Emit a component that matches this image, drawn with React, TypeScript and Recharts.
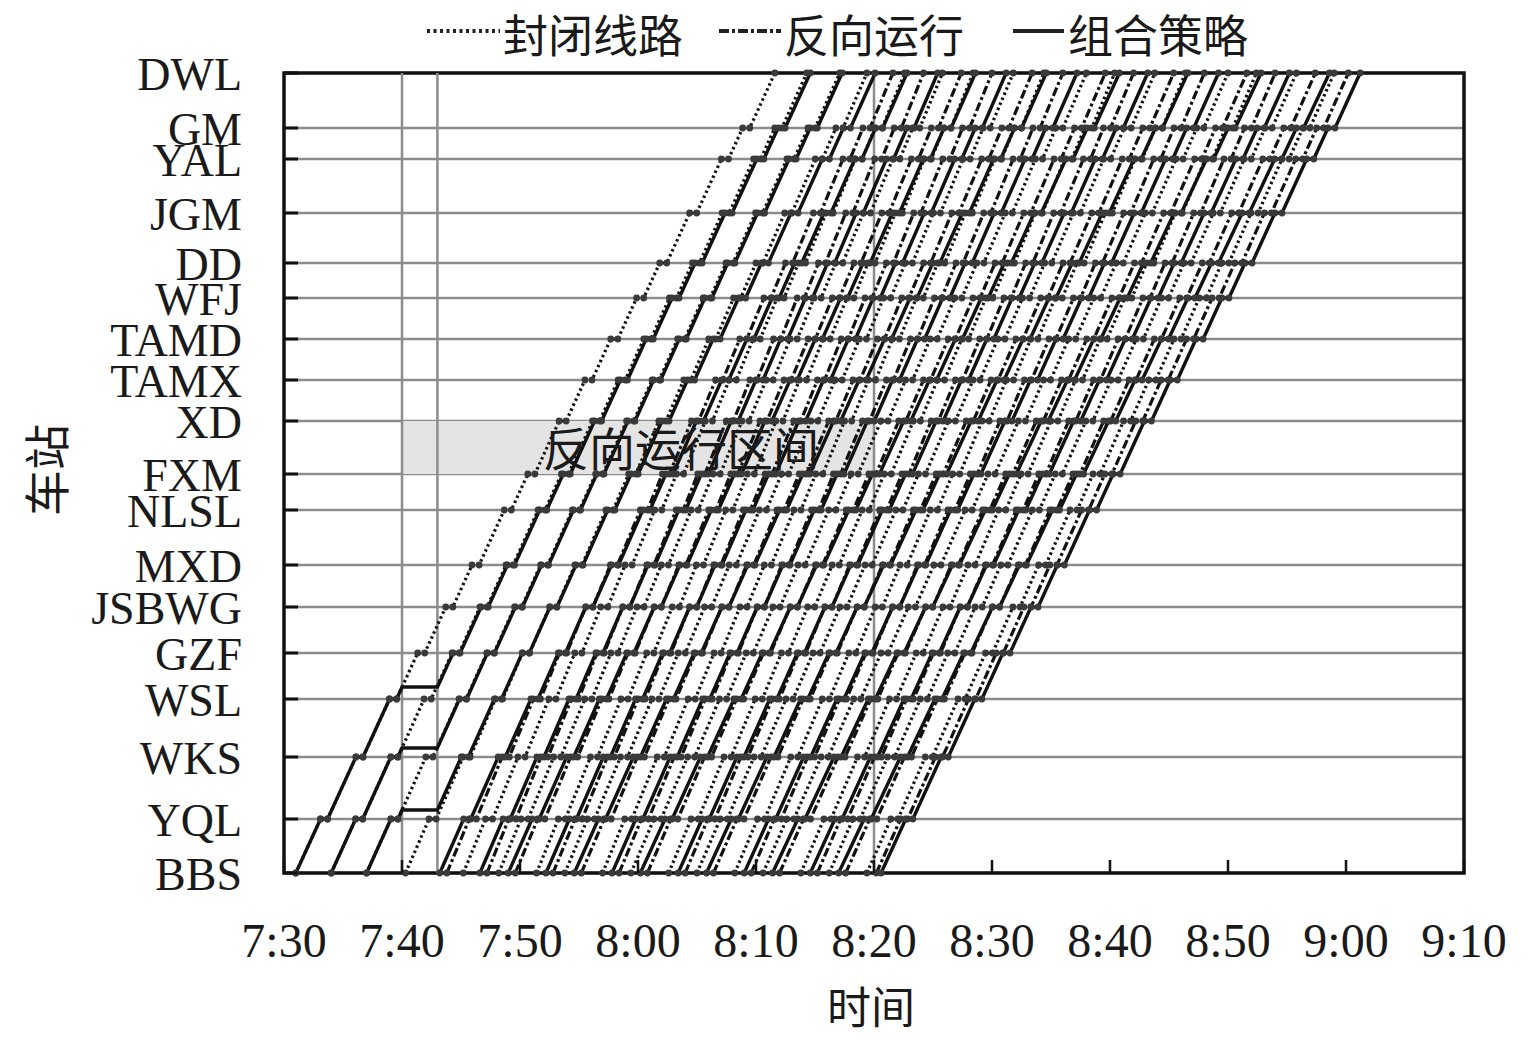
import React from "react";
import { LineChart, Line, XAxis, YAxis, CartesianGrid, ReferenceArea, ReferenceLine } from "recharts";

// stations from bottom (BBS) to top (DWL), position along the line
const stations = ["BBS", "YQL", "WKS", "WSL", "GZF", "JSBWG", "MXD", "NLSL", "FXM", "XD", "TAMX", "TAMD", "WFJ", "DD", "JGM", "YAL", "GM", "DWL"];
const stationPos = [0, 54, 116, 174, 220, 266, 308, 363, 399, 452, 493, 534, 575, 610, 660, 714, 745, 800];

// minutes after 7:30
const timeTicks = [0, 10, 20, 30, 40, 50, 60, 70, 80, 90, 100];
const timeLabels = ["7:30", "7:40", "7:50", "8:00", "8:10", "8:20", "8:30", "8:40", "8:50", "9:00", "9:10"];

// departure from BBS / arrival at DWL, per plan
const closedDep = [10.3, 15.2, 18.2, 21.4, 23.8, 27.0, 29.4, 32.6, 35.0, 38.2, 40.6, 43.8, 46.2, 49.4];
const closedArr = [49.4, 52.6, 55.8, 58.4, 61.8, 64.4, 68.0, 70.4, 73.8, 76.4, 80.0, 82.4, 85.8, 89.0];
const reverseDep = [13.8, 17.2, 19.6, 22.8, 25.2, 28.4, 30.8, 34.0, 36.4, 39.6, 42.0, 45.2, 47.6, 50.2];
const reverseArr = [51.6, 54.2, 57.4, 60.0, 63.4, 66.0, 69.6, 72.0, 75.4, 78.0, 81.6, 84.0, 87.4, 90.2];
const comboDep = [13.2, 16.6, 19.0, 22.2, 24.6, 27.8, 30.2, 33.4, 35.8, 39.0, 41.4, 44.6, 47.0, 50.6];
const comboArr = [52.8, 55.4, 58.6, 61.2, 64.6, 67.2, 70.8, 73.2, 76.6, 79.2, 82.8, 85.2, 88.6, 91.2];

// trains already on the line at the incident
const earlyDep = [1, 4, 7];
const earlyHoldPos = [186, 125, 63];
const earlyHeldArr = [44.6, 47.3, 50.1];
const earlyFreeArr = [41.6, 44.3, 47.1];
const holdStart = 10;
const holdEnd = 13;
const dwell = 0.6;

type Pt = { t: number; s: number; stop?: boolean };

function buildRun(dep: number, arr: number, holdAt?: number): Pt[] {
  const hold = holdAt === undefined ? 0 : holdEnd - holdStart;
  const stops = stationPos.length - 2;
  const speed = 800 / (arr - dep - stops * dwell - hold);
  let t = dep;
  const pts: Pt[] = [{ t, s: 0, stop: true }];
  for (let i = 1; i < stationPos.length; i++) {
    const a = stationPos[i - 1];
    const b = stationPos[i];
    if (holdAt !== undefined && holdAt > a && holdAt < b) {
      t += (holdAt - a) / speed;
      pts.push({ t, s: holdAt });
      t += hold;
      pts.push({ t, s: holdAt });
      t += (b - holdAt) / speed;
    } else {
      t += (b - a) / speed;
    }
    pts.push({ t, s: b, stop: true });
    if (i < stationPos.length - 1) {
      t += dwell;
      pts.push({ t, s: b, stop: true });
    }
  }
  return pts;
}

const closedRuns = [
  ...earlyDep.map((d, i) => buildRun(d, earlyFreeArr[i])),
  ...closedDep.map((d, i) => buildRun(d, closedArr[i])),
];
const reverseRuns = reverseDep.map((d, i) => buildRun(d, reverseArr[i]));
const comboRuns = [
  ...earlyDep.map((d, i) => buildRun(d, earlyHeldArr[i], earlyHoldPos[i])),
  ...comboDep.map((d, i) => buildRun(d, comboArr[i])),
];

const serif = "'Liberation Serif', 'DejaVu Serif', serif";
const cjk = "'Noto Sans CJK SC', sans-serif";

const renderDot = (p: any) =>
  p.payload && p.payload.stop ? (
    <circle key={`d${p.index}`} cx={p.cx} cy={p.cy} r={3.4} fill="#3a3a3a" stroke="none" />
  ) : (
    <g key={`d${p.index}`} />
  );

const XTick = (p: any) => {
  const i = timeTicks.indexOf(p.payload.value);
  return (
    <g>
      <line x1={p.x} x2={p.x} y1={p.y} y2={p.y - 13} stroke="#111" strokeWidth={2.5} />
      <text x={p.x} y={p.y + 67} textAnchor="middle" dominantBaseline="central" fontSize={48} fontFamily={serif} fill="#1a1a1a">
        {timeLabels[i]}
      </text>
    </g>
  );
};

const YTick = (p: any) => {
  const i = stationPos.indexOf(p.payload.value);
  return (
    <g>
      <line x1={p.x} x2={p.x + 14} y1={p.y} y2={p.y} stroke="#111" strokeWidth={3} />
      <text x={p.x - 42} y={p.y + 1} textAnchor="end" dominantBaseline="central" fontSize={46} fontFamily={serif} fill="#1a1a1a">
        {stations[i]}
      </text>
    </g>
  );
};

function runLine(pts: Pt[], key: string, dash: string | undefined, width: number) {
  return (
    <Line
      key={key}
      data={pts}
      dataKey="s"
      type="linear"
      stroke="#111"
      strokeWidth={width}
      strokeDasharray={dash}
      dot={renderDot}
      activeDot={false}
      legendType="none"
      isAnimationActive={false}
    />
  );
}

const label = (text: string, x: number, y: number, size: number, extra: React.CSSProperties = {}) => (
  <div
    style={{
      position: "absolute",
      left: x,
      top: y,
      transform: "translate(-50%, -50%)",
      fontFamily: cjk,
      fontSize: size,
      lineHeight: 1.2,
      whiteSpace: "nowrap",
      color: "#1a1a1a",
      ...extra,
    }}>
    {text}
  </div>
);

export default function App() {
  return (
    <div style={{ position: "fixed", left: 0, top: 0, width: 1535, height: 1039, background: "#fff" }}>
      <div style={{ position: "absolute", left: 8, top: 8 }}>
        <LineChart width={1519} height={1020} margin={{ top: 65, right: 63, bottom: 55, left: 41 }}>
          <CartesianGrid vertical={false} stroke="#8c8c8c" strokeWidth={2.5} />
          <XAxis
            dataKey="t"
            type="number"
            domain={[0, 100]}
            ticks={timeTicks}
            allowDataOverflow
            height={100}
            tickSize={0}
            tickMargin={0}
            axisLine={false}
            tick={XTick}
          />
          <YAxis
            type="number"
            domain={[0, 800]}
            ticks={stationPos}
            width={235}
            tickSize={0}
            tickMargin={0}
            axisLine={false}
            tick={YTick}
          />
          <ReferenceArea x1={10} x2={50} y1={399} y2={452} fill="#e4e4e4" fillOpacity={1} stroke="none" />
          <ReferenceLine x={10} stroke="#8c8c8c" strokeWidth={2.5} />
          <ReferenceLine x={13} stroke="#8c8c8c" strokeWidth={2.5} />
          <ReferenceLine x={50} stroke="#8c8c8c" strokeWidth={2.5} />
          {closedRuns.map((r, i) => runLine(r, `c${i}`, "2.5 3", 3.2))}
          {reverseRuns.map((r, i) => runLine(r, `r${i}`, "9 3 3 3", 3.2))}
          {comboRuns.map((r, i) => runLine(r, `m${i}`, undefined, 3.4))}
          <ReferenceArea x1={0} x2={100} y1={0} y2={800} fill="none" stroke="#111" strokeWidth={3.5} />
        </LineChart>
      </div>

      {/* legend */}
      <svg style={{ position: "absolute", left: 0, top: 0 }} width={1535} height={66}>
        <line x1={427} x2={500} y1={31} y2={31} stroke="#222" strokeWidth={4} strokeDasharray="3 3.5" />
        <text x={503} y={33} dominantBaseline="central" fontSize={45} fontFamily={cjk} fill="#1a1a1a">封闭线路</text>
        <line x1={719} x2={781} y1={31} y2={31} stroke="#222" strokeWidth={4} strokeDasharray="10 3 3 3" />
        <text x={784} y={33} dominantBaseline="central" fontSize={45} fontFamily={cjk} fill="#1a1a1a">反向运行</text>
        <line x1={1013} x2={1064} y1={31} y2={31} stroke="#222" strokeWidth={4} />
        <text x={1068} y={33} dominantBaseline="central" fontSize={45} fontFamily={cjk} fill="#1a1a1a">组合策略</text>
      </svg>

      {label("反向运行区间", 681, 447, 46)}
      {label("时间", 871, 1005, 44)}
      {label("车站", 45, 470, 46, { transform: "translate(-50%, -50%) rotate(-90deg)" })}
    </div>
  );
}
